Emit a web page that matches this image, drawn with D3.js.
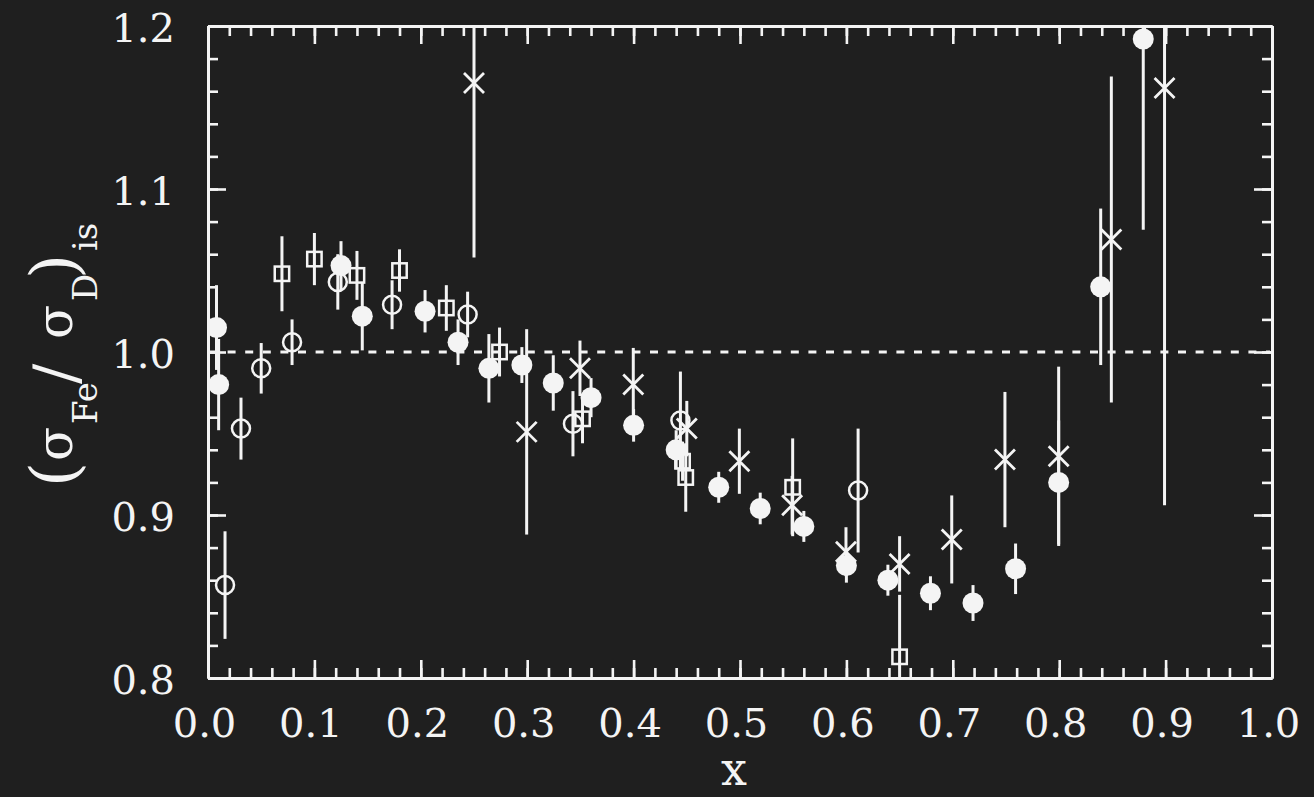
<!DOCTYPE html>
<html>
<head>
<meta charset="utf-8">
<script src="https://cdn.jsdelivr.net/npm/d3@7"></script>
<style>
  html, body { margin: 0; padding: 0; background: #1f1f1f; }
  svg { display: block; }
</style>
</head>
<body>
<svg id="chart" width="1314" height="797"></svg>
<script>
// Ratio of iron to deuterium structure functions versus x, four data sets.
const xMajorTicks = [0.0, 0.1, 0.2, 0.3, 0.4, 0.5, 0.6, 0.7, 0.8, 0.9, 1.0];
const yMajorTicks = [0.8, 0.9, 1.0, 1.1, 1.2];

// filled circles
const filledX   = [0.008, 0.010, 0.125, 0.145, 0.204, 0.235, 0.264, 0.295, 0.3245, 0.360, 0.400, 0.440, 0.480, 0.519, 0.560, 0.600, 0.639, 0.679, 0.719, 0.759, 0.7995, 0.839, 0.879];
const filledY   = [1.015, 0.980, 1.053, 1.022, 1.025, 1.006, 0.990, 0.992, 0.981, 0.972, 0.955, 0.940, 0.917, 0.904, 0.893, 0.869, 0.860, 0.852, 0.846, 0.867, 0.920, 1.040, 1.192];
const filledErr = [0.026, 0.028, 0.015, 0.021, 0.013, 0.014, 0.021, 0.011, 0.017, 0.012, 0.010, 0.012, 0.0095, 0.0097, 0.0095, 0.0105, 0.0095, 0.0104, 0.011, 0.0155, 0.038, 0.048, 0.117];

// open circles
const openX   = [0.016, 0.031, 0.050, 0.079, 0.122, 0.173, 0.244, 0.343, 0.444, 0.611];
const openY   = [0.857, 0.953, 0.990, 1.006, 1.043, 1.029, 1.023, 0.956, 0.958, 0.915];
const openErr = [0.033, 0.019, 0.0155, 0.014, 0.017, 0.015, 0.014, 0.020, 0.030, 0.038];

// open squares
const squareX   = [0.0695, 0.100, 0.140, 0.180, 0.224, 0.274, 0.352, 0.446, 0.449, 0.5495, 0.650];
const squareY   = [1.048, 1.057, 1.047, 1.050, 1.027, 1.000, 0.959, 0.933, 0.923, 0.917, 0.813];
const squareErr = [0.023, 0.016, 0.015, 0.013, 0.014, 0.015, 0.015, 0.012, 0.021, 0.030, 0.038];

// crosses
const crossX   = [0.250, 0.2995, 0.3496, 0.3997, 0.450, 0.4994, 0.549, 0.5996, 0.650, 0.699, 0.749, 0.7995, 0.849, 0.899];
const crossY   = [1.165, 0.951, 0.990, 0.980, 0.953, 0.933, 0.906, 0.8775, 0.870, 0.885, 0.934, 0.936, 1.069, 1.162];
const crossErr = [0.107, 0.063, 0.017, 0.0225, 0.017, 0.020, 0.018, 0.015, 0.017, 0.027, 0.0415, 0.055, 0.100, 0.256];

const FG = "#f4f4f4";
const SERIF = "'DejaVu Serif', serif";

const svg = d3.select("#chart");
const L = 208, R = 1272, T = 26, B = 678;

const x = d3.scaleLinear().domain([0, 1]).range([L, R]);
const y = d3.scaleLinear().domain([0.8, 1.2]).range([B, T]);

const xMinor = d3.range(0, 1.0001, 0.02);
const yMinor = d3.range(0.8, 1.2001, 0.02);

function styleAxis(g) {
  g.selectAll("path.domain").attr("stroke", FG).attr("stroke-width", 3);
  g.selectAll(".tick line").attr("stroke", FG).attr("stroke-width", 2.6);
}

// minor ticks on all four sides
svg.append("g").attr("transform", `translate(0,${B})`)
  .call(d3.axisBottom(x).tickValues(xMinor).tickSize(-10).tickSizeOuter(0).tickFormat(""))
  .call(styleAxis);
svg.append("g").attr("transform", `translate(0,${T})`)
  .call(d3.axisTop(x).tickValues(xMinor).tickSize(-10).tickSizeOuter(0).tickFormat(""))
  .call(styleAxis);
svg.append("g").attr("transform", `translate(${L},0)`)
  .call(d3.axisLeft(y).tickValues(yMinor).tickSize(-10).tickSizeOuter(0).tickFormat(""))
  .call(styleAxis);
svg.append("g").attr("transform", `translate(${R},0)`)
  .call(d3.axisRight(y).tickValues(yMinor).tickSize(-10).tickSizeOuter(0).tickFormat(""))
  .call(styleAxis);

// major ticks
const xb = svg.append("g").attr("transform", `translate(0,${B})`)
  .call(d3.axisBottom(x).tickValues(xMajorTicks).tickSize(-18).tickSizeOuter(0).tickFormat(d3.format(".1f")))
  .call(styleAxis);
xb.selectAll(".tick text")
  .attr("fill", FG).attr("font-family", SERIF).attr("font-size", 40)
  .attr("y", 0).attr("dy", 0).attr("dx", -4)
  .attr("transform", "translate(0,59)");
svg.append("g").attr("transform", `translate(0,${T})`)
  .call(d3.axisTop(x).tickValues(xMajorTicks).tickSize(-18).tickSizeOuter(0).tickFormat(""))
  .call(styleAxis);
const yl = svg.append("g").attr("transform", `translate(${L},0)`)
  .call(d3.axisLeft(y).tickValues(yMajorTicks).tickSize(-18).tickSizeOuter(0).tickFormat(d3.format(".1f")))
  .call(styleAxis);
yl.selectAll(".tick text")
  .attr("fill", FG).attr("font-family", SERIF).attr("font-size", 40)
  .attr("x", -33).attr("dy", 0).attr("transform", "translate(0,15)");
svg.append("g").attr("transform", `translate(${R},0)`)
  .call(d3.axisRight(y).tickValues(yMajorTicks).tickSize(-18).tickSizeOuter(0).tickFormat(""))
  .call(styleAxis);

// reference line at unity
svg.append("line")
  .attr("x1", x(0) + 2).attr("x2", x(1) - 2)
  .attr("y1", y(1.0)).attr("y2", y(1.0))
  .attr("stroke", FG).attr("stroke-width", 3)
  .attr("stroke-dasharray", "8,9.6");

// clip region for the data
svg.append("clipPath").attr("id", "plotClip")
  .append("rect").attr("x", L).attr("y", T).attr("width", R - L).attr("height", B - T);

const plot = svg.append("g").attr("clip-path", "url(#plotClip)");

function rows(xs, ys, es) { return xs.map((v, i) => ({ x: v, y: ys[i], e: es[i] })); }
const filled = rows(filledX, filledY, filledErr);
const open = rows(openX, openY, openErr);
const squares = rows(squareX, squareY, squareErr);
const crosses = rows(crossX, crossY, crossErr);

function errorBars(data) {
  plot.append("g").selectAll("line").data(data).join("line")
    .attr("x1", d => x(d.x)).attr("x2", d => x(d.x))
    .attr("y1", d => y(d.y + d.e)).attr("y2", d => y(d.y - d.e))
    .attr("stroke", FG).attr("stroke-width", 3);
}
[crosses, squares, open, filled].forEach(errorBars);

// crosses
plot.append("g").selectAll("path").data(crosses).join("path")
  .attr("d", d => {
    const cx = x(d.x), cy = y(d.y), h = 10;
    return `M${cx - h},${cy - h}L${cx + h},${cy + h}M${cx - h},${cy + h}L${cx + h},${cy - h}`;
  })
  .attr("stroke", FG).attr("stroke-width", 2.8).attr("fill", "none");

// open squares
plot.append("g").selectAll("rect").data(squares).join("rect")
  .attr("x", d => x(d.x) - 7.2).attr("y", d => y(d.y) - 7.2)
  .attr("width", 14.4).attr("height", 14.4)
  .attr("fill", "none").attr("stroke", FG).attr("stroke-width", 2.5);

// open circles
plot.append("g").selectAll("circle").data(open).join("circle")
  .attr("cx", d => x(d.x)).attr("cy", d => y(d.y)).attr("r", 9)
  .attr("fill", "none").attr("stroke", FG).attr("stroke-width", 2.5);

// filled circles
plot.append("g").selectAll("circle").data(filled).join("circle")
  .attr("cx", d => x(d.x)).attr("cy", d => y(d.y)).attr("r", 10.5)
  .attr("fill", FG);

// axis titles
svg.append("text")
  .attr("x", 734).attr("y", 785)
  .attr("text-anchor", "middle")
  .attr("font-family", SERIF).attr("font-size", 46).attr("fill", FG)
  .text("x");

const yt = svg.append("g").attr("transform", "translate(72,0) rotate(-90)")
  .attr("font-family", SERIF).attr("fill", FG);
const pieces = [
  { t: "(", at: 487, size: 64, dy: 4 },
  { t: "σ", at: 461, size: 50, dy: 0 },
  { t: "Fe", at: 424, size: 34, dy: 25 },
  { t: "/", at: 384, size: 60, dy: 4 },
  { t: "σ", at: 339, size: 50, dy: 0 },
  { t: "D", at: 301, size: 34, dy: 25 },
  { t: ")", at: 279, size: 64, dy: 4 },
  { t: "is", at: 251, size: 34, dy: 25 }
];
yt.selectAll("text").data(pieces).join("text")
  .attr("x", d => -d.at).attr("y", d => d.dy)
  .attr("font-size", d => d.size)
  .text(d => d.t);
</script>
</body>
</html>
